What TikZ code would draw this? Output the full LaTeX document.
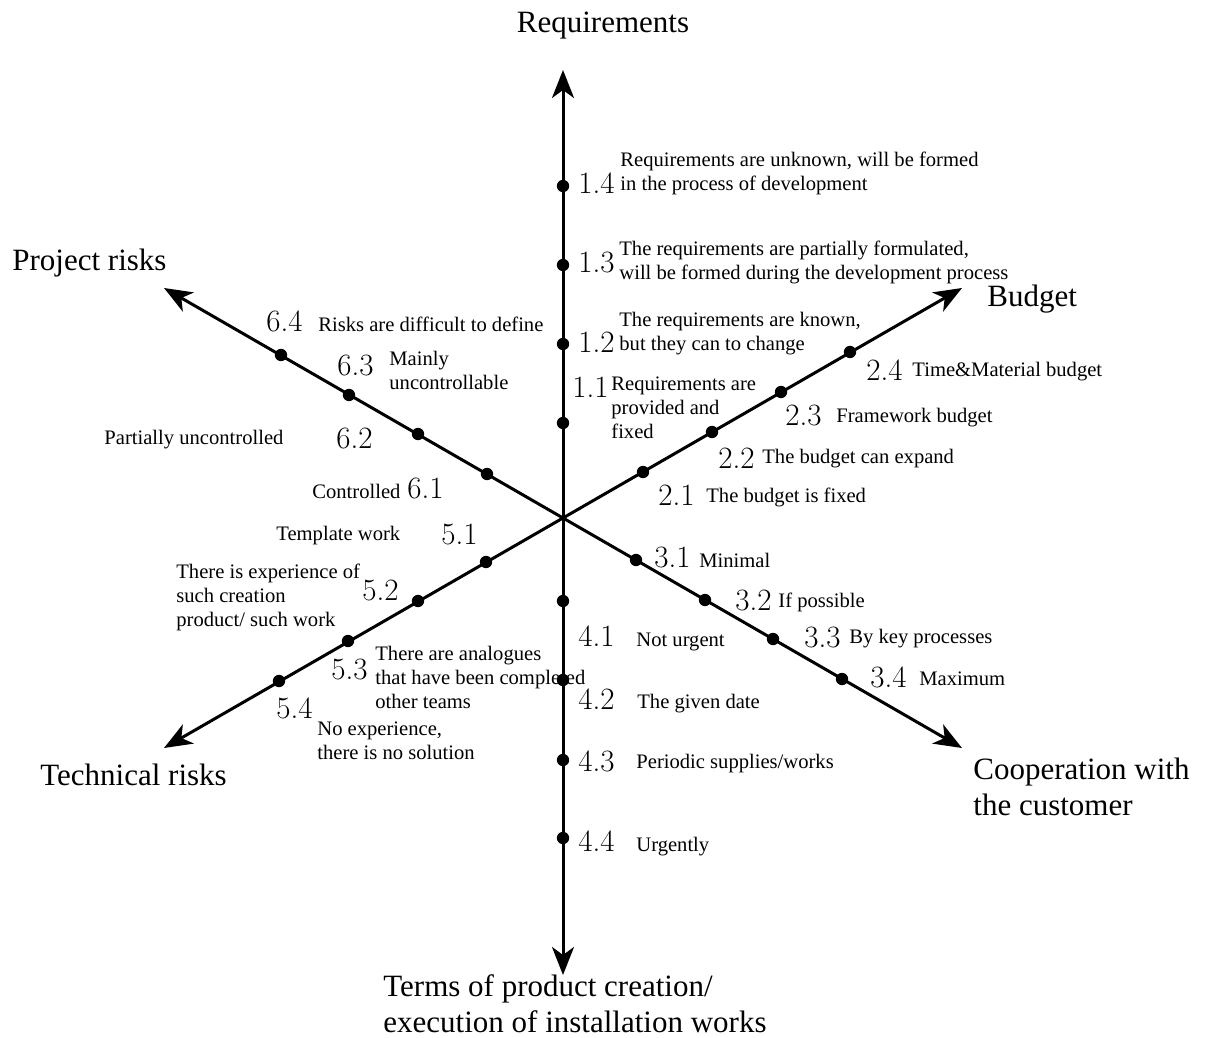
\documentclass[tikz,border=0pt]{standalone}
\usepackage{fontspec}
\newfontfamily\labfont{Liberation Serif}
\usetikzlibrary{arrows.meta}
\begin{document}
\begin{tikzpicture}[x=0.5pt,y=-0.5pt,
  axis/.style={line width=1.5pt,-{Stealth[length=14pt,width=11pt,inset=4pt]}},
  dot/.style={circle,fill=black,inner sep=0pt,minimum size=6.2pt},
  num/.style={anchor=west,inner sep=0pt,font=\fontsize{15.5}{18}\selectfont},
  lab/.style={anchor=west,inner sep=0pt,align=left,font=\labfont\fontsize{10.3}{12}\selectfont},
  ttl/.style={anchor=west,inner sep=0pt,align=left,font=\labfont\fontsize{15.5}{18}\selectfont}]
\useasboundingbox (0,0) rectangle (1206,1038);
% axes
\coordinate (c) at (563,518);
\coordinate (tN) at (563,70);
\coordinate (tS) at (563,975);
\coordinate (tB) at (962,288);
\coordinate (tC) at (962,748);
\coordinate (tP) at (164,288);
\coordinate (tT) at (164,748);
\draw[axis] (c) -- (tN);
\draw[axis] (c) -- (tS);
\draw[axis] (c) -- (tB);
\draw[axis] (c) -- (tC);
\draw[axis] (c) -- (tP);
\draw[axis] (c) -- (tT);
% titles
\node[ttl,anchor=center] (ttlReq) at (603,26) {Requirements};
\node[ttl] (ttlBud) at (987,299) {Budget};
\node[ttl] (ttlPro) at (12,263) {Project risks};
\node[ttl] (ttlCoo) at (973,787) {Cooperation with\\the customer};
\node[ttl] (ttlTec) at (40,775) {Technical risks};
\node[ttl] (ttlTer) at (383,1004) {Terms of product creation/\\execution of installation works};
% axis 1
\node[dot] (d11) at (563,423) {};
\node[dot] (d12) at (563,344) {};
\node[dot] (d13) at (563,265) {};
\node[dot] (d14) at (563,186) {};
\node[num] (n14) at (578,183) {1.4};
\node[lab] (l14) at (620,173) {Requirements are unknown, will be formed\\in the process of development};
\node[num] (n13) at (578,263) {1.3};
\node[lab] (l13) at (619,262) {The requirements are partially formulated,\\will be formed during the development process};
\node[num] (n12) at (578,342) {1.2};
\node[lab] (l12) at (619,334) {The requirements are known,\\but they can to change};
\node[num] (n11) at (572,387) {1.1};
\node[lab] (l11) at (611,408) {Requirements are\\provided and\\fixed};
% axis 2
\node[dot] (d21) at (643,472) {};
\node[dot] (d22) at (712,432) {};
\node[dot] (d23) at (781,392) {};
\node[dot] (d24) at (850,352) {};
\node[num] (n24) at (866,370) {2.4};
\node[lab] (l24) at (912,372) {Time\&Material budget};
\node[num] (n23) at (785,416) {2.3};
\node[lab] (l23) at (836,418) {Framework budget};
\node[num] (n22) at (718,458) {2.2};
\node[lab] (l22) at (762,459) {The budget can expand};
\node[num] (n21) at (658,495) {2.1};
\node[lab] (l21) at (706,497) {The budget is fixed};
% axis 3
\node[dot] (d31) at (636,560) {};
\node[dot] (d32) at (705,600) {};
\node[dot] (d33) at (773,639) {};
\node[dot] (d34) at (842,679) {};
\node[num] (n31) at (654,558) {3.1};
\node[lab] (l31) at (699,560) {Minimal};
\node[num] (n32) at (735,601) {3.2};
\node[lab] (l32) at (778,602) {If possible};
\node[num] (n33) at (804,638) {3.3};
\node[lab] (l33) at (849,639) {By key processes};
\node[num] (n34) at (870,677) {3.4};
\node[lab] (l34) at (919,679) {Maximum};
% axis 4
\node[dot] (d41) at (563,601) {};
\node[dot] (d42) at (563,680) {};
\node[dot] (d43) at (563,760) {};
\node[dot] (d44) at (563,838) {};
\node[num] (n41) at (578,636) {4.1};
\node[lab] (l41) at (636,642) {Not urgent};
\node[num] (n42) at (578,699) {4.2};
\node[lab] (l42) at (637,704) {The given date};
\node[num] (n43) at (578,761) {4.3};
\node[lab] (l43) at (636,764) {Periodic supplies/works};
\node[num] (n44) at (578,841) {4.4};
\node[lab] (l44) at (636,847) {Urgently};
% axis 5
\node[dot] (d51) at (486,562) {};
\node[dot] (d52) at (418,601) {};
\node[dot] (d53) at (348,641) {};
\node[dot] (d54) at (279,681) {};
\node[num] (n51) at (441,535) {5.1};
\node[lab] (l51) at (276,536) {Template work};
\node[num] (n52) at (362,590) {5.2};
\node[lab] (l52) at (176,597) {There is experience of\\such creation\\product/ such work};
\node[num] (n53) at (331,669) {5.3};
\node[lab] (l53) at (375,677) {There are analogues\\that have been completed\\other teams};
\node[num] (n54) at (276,708) {5.4};
\node[lab] (l54) at (317,741) {No experience,\\there is no solution};
% axis 6
\node[dot] (d61) at (487,474) {};
\node[dot] (d62) at (418,434) {};
\node[dot] (d63) at (349,395) {};
\node[dot] (d64) at (281,355) {};
\node[num] (n64) at (266,321) {6.4};
\node[lab] (l64) at (318,324) {Risks are difficult to define};
\node[num] (n63) at (337,366) {6.3};
\node[lab] (l63) at (389,370) {Mainly\\uncontrollable};
\node[num] (n62) at (336,439) {6.2};
\node[lab] (l62) at (104,440) {Partially uncontrolled};
\node[num] (n61) at (407,489) {6.1};
\node[lab] (l61) at (312,491) {Controlled};
\end{tikzpicture}
\end{document}
